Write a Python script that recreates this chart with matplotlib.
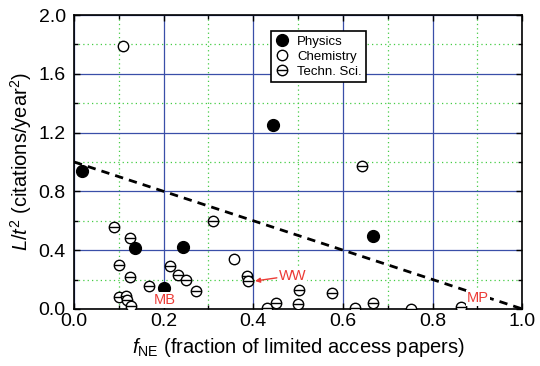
import numpy as np
import matplotlib
matplotlib.use("Agg")
import matplotlib.pyplot as plt
from matplotlib.path import Path
from matplotlib.markers import MarkerStyle

plt.rcParams['font.family'] = ['Liberation Sans', 'DejaVu Sans']
plt.rcParams['mathtext.fontset'] = 'custom'
plt.rcParams['mathtext.rm'] = 'Liberation Sans'
plt.rcParams['mathtext.it'] = 'Liberation Sans:italic'

# data
phys_x = [0.019, 0.137, 0.243, 0.2016, 0.4435, 0.668]
phys_y = [0.94, 0.417, 0.42, 0.145, 1.25, 0.497]

chem_x = [0.109, 0.357]
chem_y = [1.79, 0.342]

tech_x = [0.090, 0.125, 0.311, 0.387, 0.389, 0.100, 0.126, 0.215, 0.231, 0.250,
          0.167, 0.273, 0.0997, 0.116, 0.118, 0.127, 0.642, 0.5015, 0.500, 0.576,
          0.430, 0.451, 0.626, 0.668, 0.7515, 0.863]
tech_y = [0.56, 0.48, 0.597, 0.227, 0.193, 0.30, 0.218, 0.29, 0.234, 0.20,
          0.159, 0.122, 0.08, 0.09, 0.06, 0.022, 0.975, 0.127, 0.036, 0.107,
          0.007, 0.04, 0.009, 0.039, 0.002, 0.014]

trend_x = [0.0, 1.0]
trend_y = [1.0, 0.0]

# circle with a horizontal bar
theta_path = Path.make_compound_path(
    Path.unit_circle(),
    Path([[-1, 0], [1, 0]], [Path.MOVETO, Path.LINETO]))
theta_marker = MarkerStyle(theta_path)

fig = plt.figure(figsize=(5.4, 3.66), dpi=100)
ax = fig.add_axes([0.137, 0.156, 0.830, 0.803])

ax.set_xlim(0, 1.0)
ax.set_ylim(0, 2.0)
ax.set_xticks(np.arange(0, 1.01, 0.2))
ax.set_yticks(np.arange(0, 2.01, 0.4))
ax.set_xticks(np.arange(0.1, 1.0, 0.2), minor=True)
ax.set_yticks(np.arange(0.2, 2.0, 0.4), minor=True)
ax.set_xticklabels(['0.0', '0.2', '0.4', '0.6', '0.8', '1.0'])
ax.set_yticklabels(['0.0', '0.4', '0.8', '1.2', '1.6', '2.0'])
ax.grid(which='major', color='#3a4fa8', lw=0.9, ls='-')
ax.grid(which='minor', color='#44cc44', lw=0.9, ls=(0, (1, 2.5)))
ax.set_axisbelow(True)
ax.tick_params(which='both', direction='in', top=True, right=True,
               labelsize=14, length=4, width=1)
ax.tick_params(which='minor', length=3)
ax.tick_params(axis='x', pad=3)
ax.tick_params(axis='y', pad=6)
for s in ax.spines.values():
    s.set_linewidth(1.2)

ax.plot(trend_x, trend_y, ls=(0, (3, 2.2)), color='black', lw=2, zorder=2)

ax.plot(tech_x, tech_y, ls='none', marker=theta_marker, ms=7.5,
        mfc='white', mec='black', mew=1.0, label='Techn. Sci.', zorder=3)
ax.plot(chem_x, chem_y, ls='none', marker='o', ms=7.5,
        mfc='white', mec='black', mew=1.0, label='Chemistry', zorder=3)
ax.plot(phys_x, phys_y, ls='none', marker='o', ms=8.5,
        mfc='black', mec='black', label='Physics', zorder=4)

handles, labels = ax.get_legend_handles_labels()
order = [2, 1, 0]
leg = ax.legend([handles[i] for i in order], [labels[i] for i in order],
                loc='upper left', bbox_to_anchor=(0.44, 0.945), fontsize=9.5,
                frameon=True, fancybox=False, framealpha=1, edgecolor='black',
                handlelength=1.0, handletextpad=0.6, borderpad=0.35,
                labelspacing=0.2, borderaxespad=0)
leg.get_frame().set_linewidth(1.2)

red = '#ec3b36'
ax.text(0.203, 0.061, 'MB', color=red, fontsize=10.5, ha='center', va='center',
        bbox=dict(facecolor='white', edgecolor='none', pad=0.5), zorder=5)
ax.text(0.901, 0.073, 'MP', color=red, fontsize=10.5, ha='center', va='center',
        bbox=dict(facecolor='white', edgecolor='none', pad=0.5), zorder=5)
ax.annotate('WW', xy=(0.404, 0.19), xytext=(0.488, 0.227), color=red,
            fontsize=10.5, ha='center', va='center',
            bbox=dict(facecolor='white', edgecolor='none', pad=0.5),
            arrowprops=dict(arrowstyle='-|>', color=red, lw=1,
                            mutation_scale=7, shrinkA=1, shrinkB=0),
            zorder=5)

ax.set_xlabel(r'$f_{\rm NE}$ (fraction of limited access papers)',
              fontsize=14.5, labelpad=4)
ax.set_ylabel(r'$L/t^2$ (citations/year$^2$)', fontsize=14.5, labelpad=3)

fig.savefig('out.png', dpi=100)
